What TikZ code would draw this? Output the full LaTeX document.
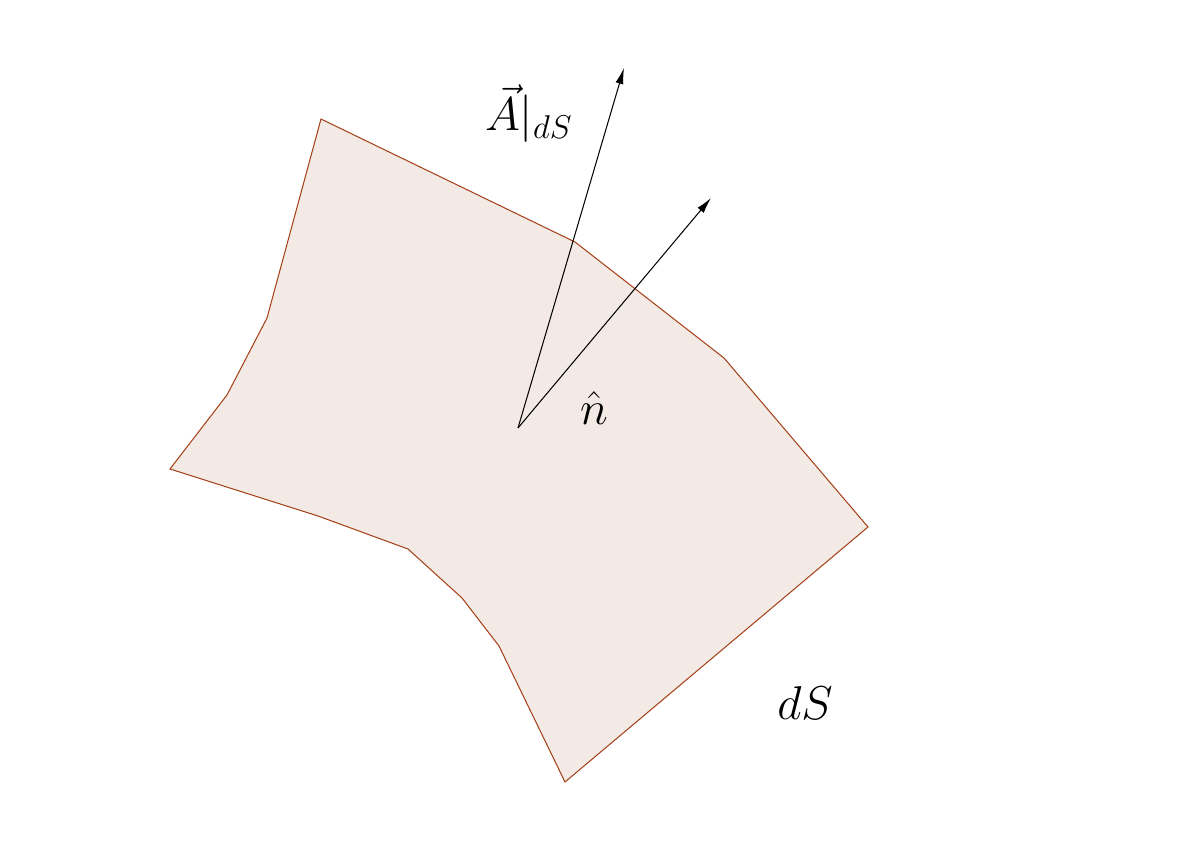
\documentclass[tikz,border=0pt]{standalone}
\usetikzlibrary{arrows.meta}
\definecolor{edgec}{RGB}{165,65,25}
\definecolor{fillc}{RGB}{243,234,229}
\begin{document}
\begin{tikzpicture}[x=0.01537cm,y=-0.01537cm,
  vec/.style={-{Latex[length=7pt,width=3.5pt]},line width=0.45pt},
  lbl/.style={font=\huge,inner sep=0pt}]
\useasboundingbox (0,0) rectangle (1182,846);
\filldraw[fill=fillc,draw=edgec,line width=0.45pt]
 (321,119) -- (575,242) -- (724,358) -- (868,527) -- (565,782) -- (499,646) -- (462,598) -- (408,549) -- (318,516) -- (170,469) -- (227,395) -- (267,318) -- cycle;
\coordinate (o) at (518,428);
\coordinate (a) at (624,68);
\coordinate (n) at (711,198);
\draw[vec] (o) -- (a);
\draw[vec] (o) -- (n);
\node[lbl] (la) at (529,114) {$\vec{A}|_{dS}$};
\node[lbl] (ln) at (594,408) {$\hat{n}$};
\node[lbl] (ls) at (805,703) {$dS$};
\end{tikzpicture}
\end{document}
